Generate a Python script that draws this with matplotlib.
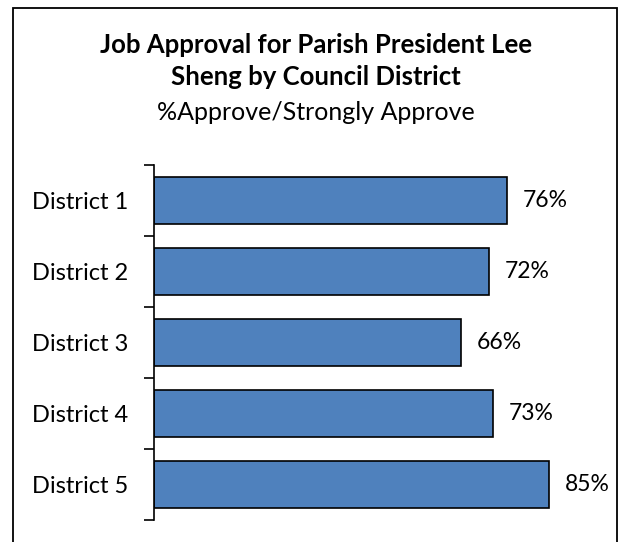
import matplotlib
matplotlib.use("Agg")
import matplotlib.pyplot as plt
from matplotlib.patches import Rectangle

districts = ["District 1", "District 2", "District 3", "District 4", "District 5"]
approve = [76, 72, 66, 73, 85]

plt.rcParams["font.family"] = ["Lato", "DejaVu Sans"]

W, H = 621, 542
fig = plt.figure(figsize=(W / 100, H / 100), dpi=100)

# outer frame (bottom edge runs off the canvas)
fig.patches.append(Rectangle((13 / W, 1 - 546 / H), 604 / W, 538 / H,
                             transform=fig.transFigure, fill=False,
                             edgecolor="black", linewidth=1.3))

cx = 316 / W
fig.text(cx, 1 - 53 / H, "Job Approval for Parish President Lee",
         ha="center", va="baseline", fontsize=18.5, fontweight="bold")
fig.text(cx, 1 - 85 / H, "Sheng by Council District",
         ha="center", va="baseline", fontsize=18.5, fontweight="bold")
fig.text(cx, 1 - 120 / H, "%Approve/Strongly Approve",
         ha="center", va="baseline", fontsize=18)

ax = fig.add_axes([154 / W, 1 - 520 / H, (600 - 154) / W, (520 - 165) / H])
y = list(range(len(districts)))
ax.barh(y, approve, height=0.66, color="#4F81BD", edgecolor="black",
        linewidth=1.2)
for yi, v in zip(y, approve):
    ax.text(v + 3.4, yi, f"{v}%", ha="left", va="center", fontsize=16.5)

ax.set_xlim(0, 96)
ax.set_ylim(len(districts) - 0.5, -0.5)
ax.set_xticks([])
ax.set_yticks([i - 0.5 for i in range(len(districts) + 1)])
ax.set_yticklabels([])
ax.set_yticks(y, minor=True)
ax.set_yticklabels(districts, minor=True, fontsize=17)
ax.tick_params(axis="y", which="major", length=7, width=1.2, direction="out")
ax.tick_params(axis="y", which="minor", length=0, pad=18.5)
for s in ["top", "right", "bottom"]:
    ax.spines[s].set_visible(False)
ax.spines["left"].set_linewidth(1.2)

fig.savefig("out.png", dpi=100)
